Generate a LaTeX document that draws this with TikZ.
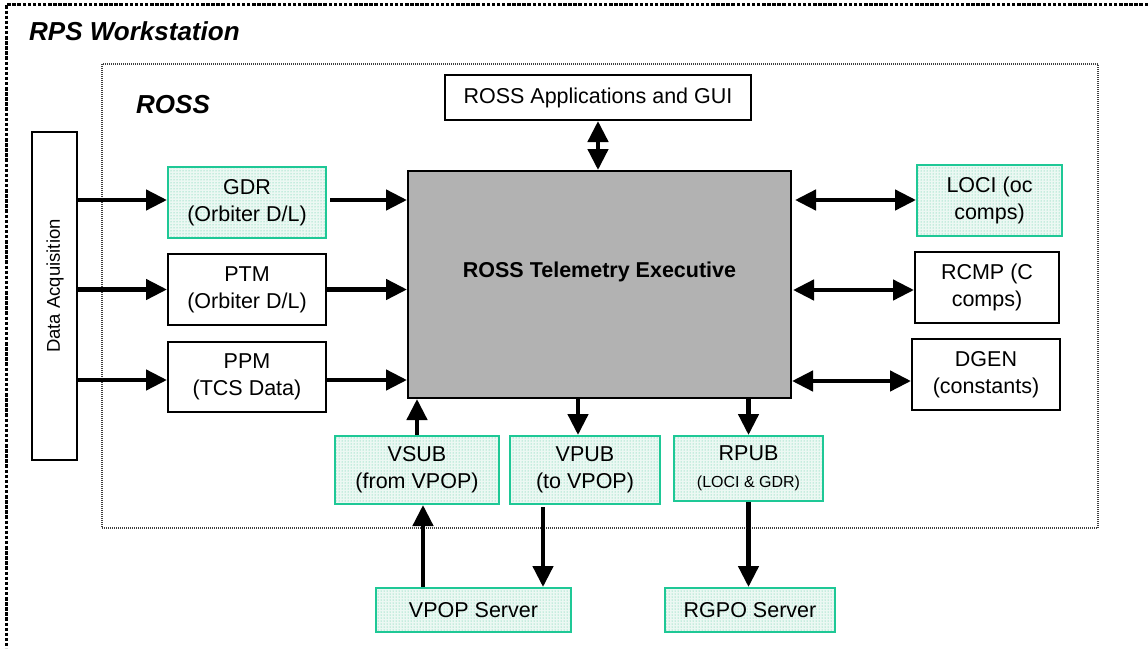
\documentclass[tikz,border=0pt]{standalone}
\usepackage{fontspec}
\setmainfont{Liberation Sans}
\usetikzlibrary{arrows.meta,patterns,calc}
\definecolor{tealb}{RGB}{30,200,150}
\definecolor{mintdot}{RGB}{70,200,155}
\definecolor{mintbg}{RGB}{236,248,243}
\definecolor{execgray}{RGB}{178,178,178}
\begin{document}
\begin{tikzpicture}[x=1pt,y=-1pt,
  txt/.style={inner sep=0pt, align=center, font=\fontsize{21.5}{27}\selectfont},
  plain/.style={txt, draw=black, line width=2pt, fill=white},
  greenbox/.style={txt, draw=tealb, line width=2pt, preaction={fill=mintbg}, pattern=dots, pattern color=mintdot},
  arr/.style={line width=4.5pt, -{Triangle[length=21pt,width=20pt]}},
  darr/.style={line width=4.5pt, {Triangle[length=21pt,width=20pt]}-{Triangle[length=21pt,width=20pt]}},
  title/.style={anchor=base west, inner sep=0pt, font=\bfseries\itshape\fontsize{26}{30}\selectfont},
]
\useasboundingbox (0,0) rectangle (1148,648);
% frames
\draw[line width=3.4pt, dash pattern=on 3.5pt off 1.6pt] (1148,4.5) -- (6.5,4.5) -- (6.5,648);
\draw[line width=1.1pt, black!75, dash pattern=on 1pt off 1pt] (102,64) rectangle (1098,528);
\node[title] (rps) at (29,40) {RPS Workstation};
\node[title] (ross) at (136,113) {ROSS};

% boxes
\node[plain, minimum width=45, minimum height=328] (DA) at (54.5,296) {};
\node[txt, rotate=90, font=\fontsize{18.5}{22}\selectfont] (dalbl) at (55,286) {Data Acquisition};

\node[greenbox, minimum width=158, minimum height=71] (GDR) at (247,202.5) {GDR\\(Orbiter D/L)};
\node[plain, minimum width=158, minimum height=71] (PTM) at (247,289.5) {PTM\\(Orbiter D/L)};
\node[plain, minimum width=158, minimum height=70] (PPM) at (247,377) {PPM\\(TCS Data)};

\node[plain, fill=execgray, minimum width=383, minimum height=227] (Main) at (599.5,284.5) {};
\node[txt, font=\bfseries\fontsize{21.5}{25}\selectfont] (mainlbl) at (599.5,272) {ROSS Telemetry Executive};

\node[plain, minimum width=306, minimum height=45] (GUI) at (598,97.5) {ROSS Applications and GUI};

\node[greenbox, minimum width=145, minimum height=71] (LOCI) at (989.5,200.5) {LOCI (oc\\comps)};
\node[plain, minimum width=144, minimum height=71] (RCMP) at (987,287.5) {RCMP (C\\comps)};
\node[plain, minimum width=148, minimum height=71] (DGEN) at (986,374.5) {DGEN\\(constants)};

\node[greenbox, minimum width=164, minimum height=68] (VSUB) at (417,470) {VSUB\\(from VPOP)};
\node[greenbox, minimum width=150, minimum height=68] (VPUB) at (585,470) {VPUB\\(to VPOP)};
\node[greenbox, minimum width=149, minimum height=65] (RPUB) at (748.5,468.5) {RPUB\\{\fontsize{16}{19}\selectfont (LOCI \& GDR)}};

\node[greenbox, minimum width=195, minimum height=44] (VPOP) at (473.5,610) {VPOP Server};
\node[greenbox, minimum width=170, minimum height=44] (RGPO) at (750,610) {RGPO Server};

% connection points
\coordinate (gdrin) at ([yshift=2.5pt]GDR.west);
\coordinate (ppmin) at ([yshift=-3pt]PPM.west);
\coordinate (lociin) at ([yshift=0.5pt]LOCI.west);
\coordinate (rcmpin) at ([yshift=-2.5pt]RCMP.west);
\coordinate (dgenin) at ([yshift=-6.5pt]DGEN.west);
\coordinate (vsubin) at ([xshift=6pt]VSUB.south);
\coordinate (vpubin) at ([xshift=-7pt]VPUB.north);
\coordinate (vpubout) at ([xshift=-42pt]VPUB.south);

% arrows
\draw[arr] (DA.east |- gdrin) -- (gdrin);
\draw[arr] (DA.east |- PTM.west) -- (PTM.west);
\draw[arr] (DA.east |- ppmin) -- (ppmin);
\draw[arr] ([xshift=3pt]GDR.east |- gdrin) -- (Main.west |- gdrin);
\draw[arr] (PTM.east) -- (Main.west |- PTM.east);
\draw[arr] (PPM.east |- ppmin) -- (Main.west |- ppmin);

\draw[darr] ([xshift=3pt]Main.east |- lociin) -- (lociin);
\draw[darr] ([xshift=1pt]Main.east |- rcmpin) -- (rcmpin);
\draw[darr] (Main.east |- dgenin) -- (dgenin);

\draw[darr] (GUI.south) -- (GUI.south |- Main.north);
\draw[arr] (VSUB.north) -- (VSUB.north |- Main.south);
\draw[arr] (vsubin |- VPOP.north) -- (vsubin);
\draw[arr] (vpubin |- Main.south) -- (vpubin);
\draw[arr] ([yshift=-2pt]vpubout) -- (vpubout |- VPOP.north);
\draw[arr] (RPUB.north |- Main.south) -- (RPUB.north);
\draw[arr] (RPUB.south) -- (RPUB.south |- RGPO.north);
\end{tikzpicture}
\end{document}
